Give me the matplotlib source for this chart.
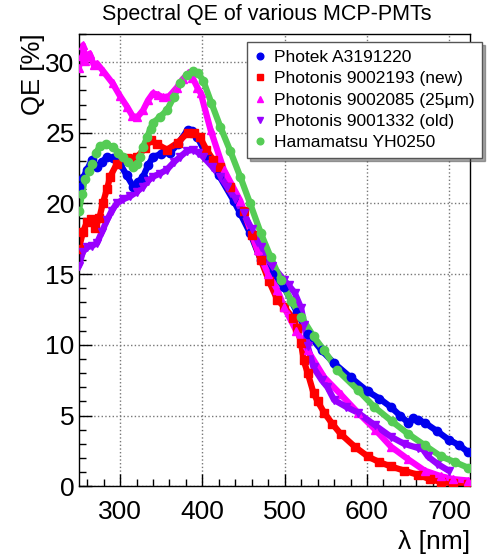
import numpy as np
import matplotlib
matplotlib.use("Agg")
import matplotlib.pyplot as plt
from matplotlib.ticker import MultipleLocator

plt.rcParams['font.family'] = ['Liberation Sans', 'DejaVu Sans']

# wavelength [nm] / QE [%]
photek_wl = [250, 255, 260, 266, 272, 278, 284, 292, 300, 308, 316, 322, 328, 334, 340, 350, 361, 370,
             382, 388, 394, 405, 420, 438, 446, 458, 471, 485, 499, 515, 528, 545, 560, 580, 601, 615,
             629, 640, 650, 656, 662, 670, 685, 699, 712, 723]
photek_qe = [21.2, 21.8, 22.4, 23.1, 22.6, 22.9, 23.3, 23.2, 22.8, 22.0, 21.2, 21.5, 21.9, 22.7, 23.3,
             23.5, 23.6, 24.2, 25.2, 25.1, 24.7, 23.4, 22.0, 20.2, 19.3, 17.9, 16.0, 15.0, 14.1, 12.3,
             10.8, 9.6, 8.7, 7.7, 6.7, 6.2, 5.6, 5.0, 4.5, 4.8, 4.7, 4.5, 3.9, 3.3, 2.9, 2.4]

new_wl = [250, 255, 260, 265, 270, 275, 279, 284, 288, 296, 309, 321, 330, 337, 345, 357, 370, 382,
          390, 397, 405, 413, 422, 434, 450, 460, 471, 481, 491, 499, 510, 515, 520, 523, 528, 535,
          540, 548, 558, 568, 585, 601, 615, 629, 645, 662, 676, 690, 705, 723]
new_qe = [16.8, 18.0, 18.7, 18.9, 18.3, 19.0, 20.0, 21.0, 21.9, 22.8, 23.2, 23.3, 23.9, 24.5, 24.2,
          23.8, 24.3, 25.0, 25.0, 24.7, 23.8, 23.1, 22.6, 21.2, 19.5, 17.8, 16.0, 14.5, 13.2, 12.7,
          11.9, 11.2, 10.1, 8.9, 8.0, 6.6, 6.0, 5.2, 4.4, 3.7, 2.8, 2.1, 1.7, 1.4, 1.1, 0.8, 0.5,
          0.3, 0.2, 0.15]

um25_wl = [250, 252, 255, 258, 263, 268, 272, 279, 291, 300, 309, 315, 321, 328, 334, 340, 346, 352,
           360, 369, 376, 383, 388, 394, 398, 410, 426, 446, 467, 480, 491, 499, 514, 528, 548,
           568, 589, 610, 629, 650, 670, 690, 705, 723]
um25_qe = [29.6, 30.4, 31.2, 30.1, 30.6, 29.8, 29.9, 29.4, 28.5, 27.6, 26.8, 26.2, 26.1, 26.6, 27.3,
           27.8, 27.7, 27.5, 27.6, 28.2, 28.8, 29.2, 28.9, 28.2, 27.8, 25.2, 22.4, 20.2, 16.7, 15.0,
           13.9, 12.7, 11.0, 9.6, 7.7, 6.5, 5.2, 4.0, 2.8, 1.9, 1.1, 0.7, 0.5, 0.4]

old_wl = [250, 255, 260, 266, 272, 278, 284, 290, 296, 304, 312, 320, 328, 334, 340, 348, 357, 365,
          373, 381, 389, 395, 401, 412, 422, 430, 440, 450, 460, 471, 485, 499, 505, 512, 520, 524,
          528, 535, 545, 552, 560, 575, 589, 610, 629, 645, 662, 668, 674, 685, 699]
old_qe = [15.6, 16.6, 16.9, 17.0, 17.2, 18.0, 18.8, 19.5, 20.0, 20.3, 20.5, 20.8, 21.2, 21.6, 21.9,
          22.1, 22.4, 22.9, 23.3, 23.7, 23.8, 23.6, 23.3, 22.6, 21.9, 21.2, 20.3, 19.3, 18.2, 16.9,
          15.6, 14.6, 14.2, 13.7, 12.6, 11.4, 9.9, 8.4, 7.5, 7.0, 6.1, 5.6, 5.2, 4.3, 3.5, 3.0,
          2.7, 2.6, 2.1, 1.6, 1.1]

hama_wl = [250, 254, 257, 262, 266, 271, 276, 283, 291, 298, 304, 310, 316, 320, 324, 328, 333, 337,
           340, 348, 357, 365, 373, 381, 389, 395, 401, 411, 422, 434, 446, 458, 471, 483, 495, 508,
           520, 535, 548, 564, 589, 609, 630, 650, 670, 690, 707, 723]
hama_qe = [19.5, 20.7, 21.7, 22.3, 22.8, 23.6, 24.1, 24.2, 24.0, 23.6, 23.3, 22.9, 22.6, 22.8, 23.3,
           24.0, 24.7, 25.3, 25.7, 26.1, 26.6, 27.5, 28.5, 29.1, 29.4, 29.2, 28.7, 27.1, 25.4, 23.7,
           21.9, 20.0, 17.9, 16.2, 14.6, 13.1, 12.0, 10.6, 9.6, 8.2, 6.8, 5.6, 4.6, 3.7, 2.9, 2.1,
           1.7, 1.3]

series = [
    (photek_wl, photek_qe, "Photek A3191220", "#0000ee", "o"),
    (new_wl, new_qe, "Photonis 9002193 (new)", "#ff0000", "s"),
    (um25_wl, um25_qe, "Photonis 9002085 (25\u00b5m)", "#ff00ff", "^"),
    (old_wl, old_qe, "Photonis 9001332 (old)", "#9900ff", "v"),
    (hama_wl, hama_qe, "Hamamatsu YH0250", "#55cc55", "o"),
]

fig = plt.figure(figsize=(4.9, 5.55), dpi=100)
ax = fig.add_axes([0.161, 0.124, 0.798, 0.815])

for wl, qe, name, col, mk in series:
    ax.plot(wl, qe, color=col, lw=4.5, solid_capstyle='round', zorder=2)
    ax.plot(wl, qe, ls='none', marker=mk, ms=6, color=col, mec=col, label=name, zorder=3)

ax.set_xlim(250, 725)
ax.set_ylim(0, 32)
ax.xaxis.set_major_locator(MultipleLocator(100))
ax.xaxis.set_minor_locator(MultipleLocator(20))
ax.yaxis.set_major_locator(MultipleLocator(5))
ax.yaxis.set_minor_locator(MultipleLocator(1))
ax.tick_params(which='both', direction='in', labelsize=19, width=1)
ax.tick_params(which='major', length=9)
ax.tick_params(which='minor', length=5)
ax.tick_params(axis='x', pad=10)
ax.tick_params(axis='y', pad=3)
ax.grid(True, which='major', ls=':', color='#777777', lw=1)
for s in ax.spines.values():
    s.set_linewidth(1)

fig.text(0.545, 0.973, "Spectral QE of various MCP-PMTs", ha='center', va='center', fontsize=15.5)
ax.set_ylabel("QE [%]", fontsize=18.5, loc='top', labelpad=0)
ax.set_xlabel("\u03bb [nm]", fontsize=19, loc='right', labelpad=4)

leg = ax.legend(loc='upper left', bbox_to_anchor=(0.504, 0.924), bbox_transform=fig.transFigure,
                fontsize=12.5, frameon=True, fancybox=False, shadow=True, edgecolor='#555555',
                framealpha=1, handlelength=0.6, handletextpad=0.5, borderpad=0.45,
                labelspacing=0.35, markerscale=0.8, borderaxespad=0)
leg.get_frame().set_linewidth(1)

fig.savefig("out.png", dpi=100)
